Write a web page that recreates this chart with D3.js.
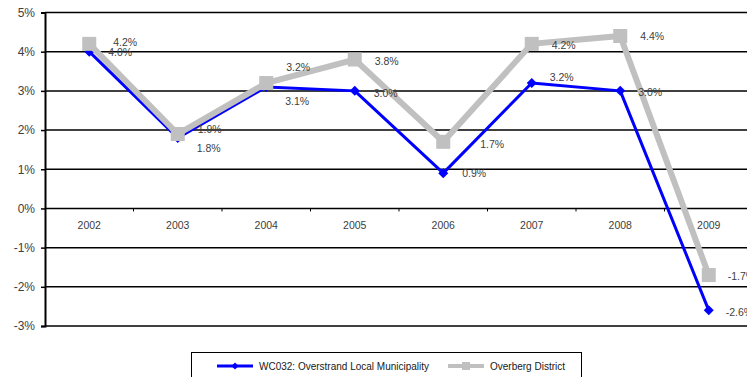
<!DOCTYPE html>
<html>
<head>
<meta charset="utf-8">
<script src="https://cdn.jsdelivr.net/npm/d3@7"></script>
<style>
  html, body { margin: 0; padding: 0; background: #fff; }
  svg { display: block; font-family: "Liberation Sans", Arial, sans-serif; }
</style>
</head>
<body>
<svg id="chart" width="747" height="377"></svg>
<script>
// Annual growth, 2002–2009
const years = ["2002", "2003", "2004", "2005", "2006", "2007", "2008", "2009"];
const overstrand = [4.0, 1.8, 3.1, 3.0, 0.9, 3.2, 3.0, -2.6];
const overberg = [4.2, 1.9, 3.2, 3.8, 1.7, 4.2, 4.4, -1.7];
const yTicks = [5, 4, 3, 2, 1, 0, -1, -2, -3];
const seriesNames = ["WC032: Overstrand Local Municipality", "Overberg District"];

// Label nudges (px) so overlapping value labels stay readable
const overstrandLabelNudge = [[19, 1], [19, 10], [19, 14], [19, 2], [19, 0], [18, -6], [18, 1], [17, 2]];
const overbergLabelNudge = [[24, -2], [20, -5], [20, -16], [20, 2], [37, 3], [20, 1], [20, 0], [19, 1]];

const svg = d3.select("#chart");
const plotLeft = 45, plotTop = 12.5, plotBottom = 326, bandW = 88.5;
const plotRight = plotLeft + bandW * years.length;

const x = d3.scaleBand().domain(years).range([plotLeft, plotRight]).paddingInner(0).paddingOuter(0);
const y = d3.scaleLinear().domain([-3, 5]).range([plotBottom, plotTop]);
const cx = d => x(d) + x.bandwidth() / 2;

// horizontal gridlines
svg.append("g").selectAll("line").data(yTicks).join("line")
  .attr("x1", plotLeft).attr("x2", plotRight)
  .attr("y1", d => y(d)).attr("y2", d => y(d))
  .attr("stroke", "#000").attr("stroke-width", 1.5);

// value axis
const yAxis = d3.axisLeft(y).tickValues(yTicks).tickSize(4).tickPadding(6)
  .tickFormat(d => d + "%");
const yg = svg.append("g").attr("transform", `translate(${plotLeft},0)`).call(yAxis);
yg.select(".domain").attr("stroke", "#000").attr("stroke-width", 2);
yg.selectAll(".tick line").attr("stroke", "#000").attr("stroke-width", 1.5);
yg.selectAll(".tick text").attr("font-size", 12).attr("fill", "#404040")
  .attr("font-family", "Liberation Sans, Arial, sans-serif");

// category axis on the zero line
const xAxis = d3.axisBottom(x).tickSize(0).tickPadding(13);
const xg = svg.append("g").attr("transform", `translate(0,${y(0)})`).call(xAxis);
xg.select(".domain").remove();
xg.selectAll(".tick text").attr("font-size", 10.5).attr("fill", "#404040")
  .attr("font-family", "Liberation Sans, Arial, sans-serif");
svg.append("g").selectAll("line").data(years.slice(1)).join("line")
  .attr("x1", d => x(d)).attr("x2", d => x(d))
  .attr("y1", y(0)).attr("y2", y(0) + 3)
  .attr("stroke", "#000").attr("stroke-width", 1);

const line = d3.line().x((d, i) => cx(years[i])).y(d => y(d));

// Overstrand series (blue, diamonds)
svg.append("path").datum(overstrand).attr("d", line)
  .attr("fill", "none").attr("stroke", "#0000ff").attr("stroke-width", 3)
  .attr("stroke-linejoin", "round");
svg.append("g").selectAll("path").data(overstrand).join("path")
  .attr("d", d3.symbol(d3.symbolSquare, 50))
  .attr("transform", (d, i) => `translate(${cx(years[i])},${y(d)}) rotate(45)`)
  .attr("fill", "#0000ff");

// Overberg series (grey, squares)
svg.append("path").datum(overberg).attr("d", line)
  .attr("fill", "none").attr("stroke", "#c0c0c0").attr("stroke-width", 6)
  .attr("stroke-linejoin", "miter");
svg.append("g").selectAll("rect").data(overberg).join("rect")
  .attr("x", (d, i) => cx(years[i]) - 7).attr("y", d => y(d) - 7)
  .attr("width", 14).attr("height", 14).attr("fill", "#c0c0c0");

// value labels
function labels(values, nudge) {
  svg.append("g").selectAll("text").data(values).join("text")
    .attr("x", (d, i) => cx(years[i]) + nudge[i][0])
    .attr("y", (d, i) => y(d) + nudge[i][1])
    .attr("dy", "0.35em")
    .attr("font-size", 10.5).attr("fill", "#404040")
    .text(d => d.toFixed(1) + "%");
}
labels(overberg, overbergLabelNudge);
labels(overstrand, overstrandLabelNudge);

// legend
const lg = svg.append("g");
lg.append("rect").attr("x", 191.5).attr("y", 352.5).attr("width", 390).attr("height", 40)
  .attr("fill", "#fff").attr("stroke", "#000").attr("stroke-width", 1);
const legendItems = [
  { name: seriesNames[0], x0: 217, color: "#0000ff", w: 3, tx: 259, mark: "diamond" },
  { name: seriesNames[1], x0: 448, color: "#c0c0c0", w: 4, tx: 490, mark: "square" }
];
const ly = 366;
legendItems.forEach(it => {
  lg.append("line").attr("x1", it.x0).attr("x2", it.x0 + 36).attr("y1", ly).attr("y2", ly)
    .attr("stroke", it.color).attr("stroke-width", it.w);
  if (it.mark === "diamond") {
    lg.append("path").attr("d", d3.symbol(d3.symbolSquare, 26))
      .attr("transform", `translate(${it.x0 + 18},${ly}) rotate(45)`).attr("fill", it.color);
  } else {
    lg.append("rect").attr("x", it.x0 + 14).attr("y", ly - 4).attr("width", 8).attr("height", 8)
      .attr("fill", it.color);
  }
  lg.append("text").attr("x", it.tx).attr("y", ly).attr("dy", "0.35em")
    .attr("font-size", 10).attr("fill", "#202020").text(it.name);
});
</script>
</body>
</html>
